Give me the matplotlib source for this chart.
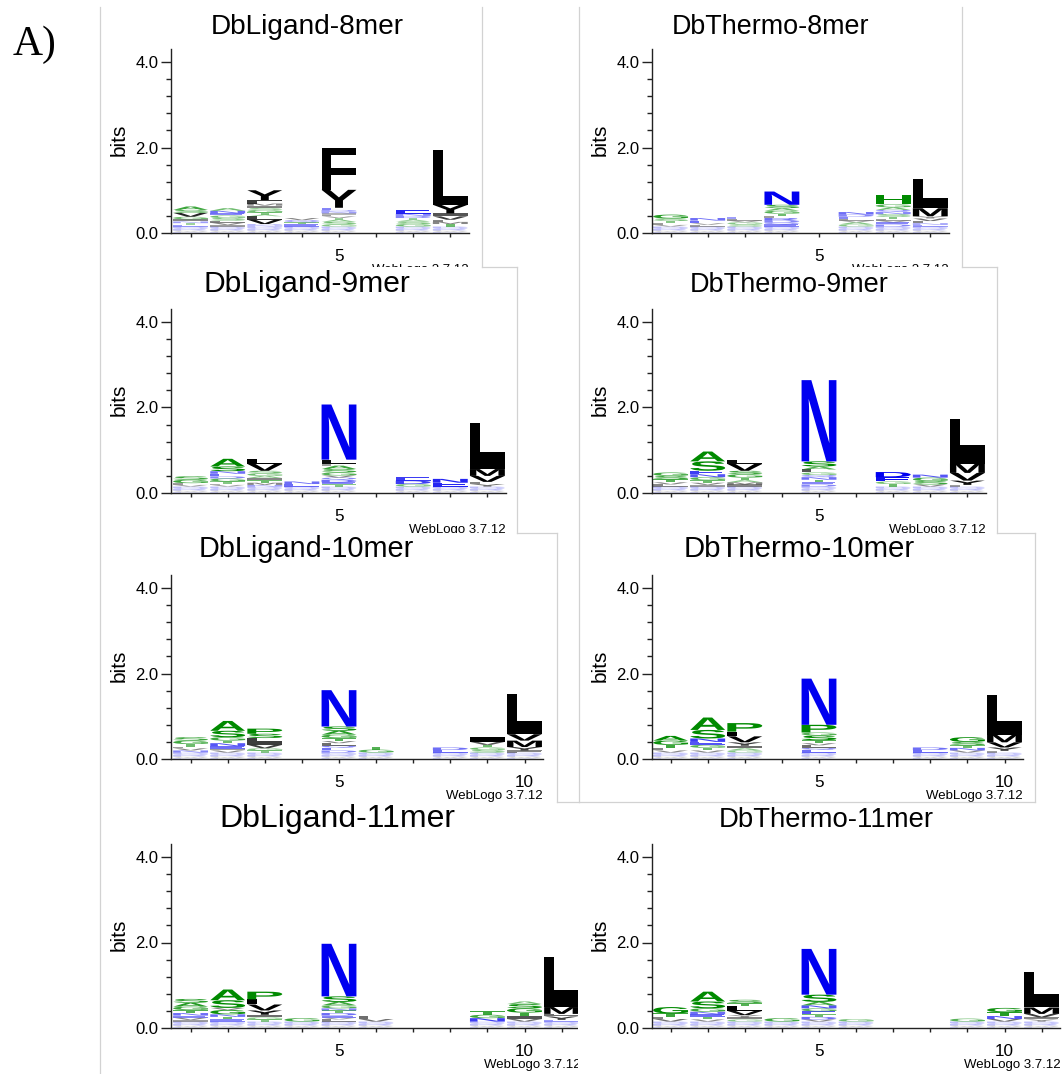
import matplotlib
matplotlib.use("Agg")
import matplotlib.pyplot as plt
from matplotlib.textpath import TextPath
from matplotlib.patches import PathPatch, Rectangle
from matplotlib.font_manager import FontProperties
from matplotlib.transforms import Affine2D
from matplotlib.lines import Line2D
from matplotlib.ticker import MultipleLocator

plt.rcParams['font.family'] = ['Liberation Sans', 'DejaVu Sans']

W, H = 1063, 1074

##
## data: one string per column, letters bottom -> top with height in 1/100 bit
## ('' = empty column). tail = faint low-information letters under every stack
tail = "K2 W2 C2 R3 Q3 D3"

lig8 = ["E4 T4 N4 I5 G6 V9 S7 A8", "I4 V5 L5 S6 G6 E5 N6 A6",
        "N3 D3 V10 L8 A4 T5 G6 S5 I5 M5 F8 Y23", "E5 T5 Q5 V5",
        "G5 S6 A5 T4 V4 L4 I3 N4 D4 E5 Y42 F97", "",
        "G6 S6 A4 T4 D5 N5 E9", "T6 M5 F5 V8 I7 Y20 L128"]
thermo8 = ["V4 L4 T5 S6 G9", "L4 V4 E6 N6", "S5 G5 V4 L4 E4",
           "E5 Q4 D5 R6 L4 T6 G7 A6 S8 N31", "", "G5 A5 V4 L4 E5 D5 N6",
           "D5 E5 V4 L4 T5 S6 N5 Q5 A6 G7 H22", "E4 N4 F5 V6 Y5 M19 I16 L53"]
lig9 = ["V4 L4 G8 S8", "V4 L3 T5 G7 D5 E6 N6 S11 A18",
        "N4 M5 T6 I5 A5 G6 S6 V16 L12", "E6 N6",
        "T5 E5 D6 Q5 V5 G7 S8 A8 F4 L10 N129", "", "G6 D8 E8", "E9 N9",
        "Y6 F5 V14 M16 I26 L81"]
thermo9 = ["L5 V5 T7 S8 G8", "I4 V5 T6 G7 N7 E8 S22 A23",
           "I5 M5 A5 T6 G8 S8 V16 L10", "",
           "D5 E5 T6 N6 Q5 G6 L7 A7 S12 N190", "", "T6 G6 E10 D12",
           "V5 S8 G8 N7", "F4 Y10 V18 M22 I32 L71"]
lig10 = ["N5 V5 L4 T6 G8 S8", "V5 I4 E6 N7 T6 G8 S15 A23",
         "T5 G5 V8 I8 L8 S10 P12", "", "D5 E6 Q5 L6 V5 T7 G8 A9 S10 N85",
         "G7 T7", "", "E6 D6", "S6 G6 T6 V7 I11", "F5 Y8 M15 V15 I18 L77"]
thermo10 = ["V5 L5 T8 G10 A11", "V5 T6 G7 E7 N8 S20 A29",
            "G5 A5 I6 Y8 V14 L11 P20", "", "E6 Q5 L6 V5 T7 S11 G7 P18 N108",
            "", "", "E6 D6", "V5 N6 T6 S8 G11", "F4 Y8 V12 M18 I21 L72"]
lig11 = ["I4 V5 E5 N6 T7 G8 A9 S9", "E5 T6 N6 G10 V5 S18 A25",
         "T5 G5 I6 Y10 V14 L12 P18", "G8", "L5 V4 E5 D6 T6 N5 G7 A8 S13 N123",
         "V6 L6", "", "", "N8 G8 T8", "V6 I7 T8 G10 S10 A6",
         "E4 Y8 F6 M16 I25 L93"]
thermo11 = ["V6 L5 T8 G15", "V5 T6 E6 N6 G8 S16 A23", "G5 I5 Y5 V10 L11 T7 S8",
            "G8", "V5 D6 T6 E7 G7 N7 A8 S17 N107", "G6", "", "", "G7",
            "V6 N7 T9 G10", "Y5 F5 V8 M15 I22 L61"]

titles = ["DbLigand-8mer", "DbThermo-8mer", "DbLigand-9mer", "DbThermo-9mer",
          "DbLigand-10mer", "DbThermo-10mer", "DbLigand-11mer", "DbThermo-11mer"]
stacks = [lig8, thermo8, lig9, thermo9, lig10, thermo10, lig11, thermo11]
ytick_vals = [0, 2, 4]
ytick_labels = ["0.0", "2.0", "4.0"]
xtick_shown = [5, 10]

# hydrophobicity colour scheme
COLORS = {}
for c in "RKDENQ":
    COLORS[c] = "#0000f0"
for c in "SGHTAP":
    COLORS[c] = "#008a00"
for c in "YVMCLFIW":
    COLORS[c] = "#000000"

##
## layout (pixels)
PX_BIT = 42.75
SP = 37.1
yaxis_px = [171, 652]
pos5_px = [339, 819]
zero_px = [233, 493, 759, 1028]
title_base = [34, 292, 557, 827]
title_x = [307, 771, 307, 789, 306, 799, 337, 826]
title_fs = [20.2, 19.4, 21.6, 19.5, 20.8, 21.2, 23, 19.8]
boxes = [(100, 7, 482, 267), (579, 7, 962, 267), (100, 267, 517, 533),
         (579, 267, 997, 533), (100, 533, 557, 802), (579, 533, 1035, 802),
         (100, 802, 578, 1074), (578, 802, 1063, 1074)]
edges = [(100, 7, 100, 1074), (482, 7, 482, 267), (482, 267, 517, 267),
         (517, 267, 517, 533), (517, 533, 557, 533), (557, 533, 557, 802),
         (557, 802, 579, 802), (579, 7, 579, 802), (962, 7, 962, 267),
         (962, 267, 997, 267), (997, 267, 997, 533), (997, 533, 1035, 533),
         (1035, 533, 1035, 802), (579, 802, 1035, 802)]


def fx(px):
    return px / W


def fy(py):
    return 1 - py / H


FP = FontProperties(family='Liberation Sans', weight='bold')
glyphs = {}


def draw_letter(ax, ch, x, y0, h, w=0.94):
    if ch not in glyphs:
        p = TextPath((0, 0), ch, size=1, prop=FP)
        glyphs[ch] = (p, p.get_extents())
    p, ext = glyphs[ch]
    tr = (Affine2D().translate(-ext.x0, -ext.y0)
          .scale(w / ext.width, h / ext.height).translate(x - w / 2, y0))
    # very thin glyphs come out faint and striped in the original raster
    alpha = min(1.0, h * PX_BIT / 4.5)
    ax.add_patch(PathPatch(tr.transform_path(p), facecolor=COLORS[ch],
                           edgecolor='none', lw=0, alpha=alpha))


fig = plt.figure(figsize=(W / 100, H / 100), dpi=100)

for i, cols in enumerate(stacks):
    col, row = i % 2, i // 2
    x0, y0, x1, y1 = boxes[i]
    fig.add_artist(Rectangle((fx(x0), fy(y1)), (x1 - x0) / W, (y1 - y0) / H,
                             transform=fig.transFigure, facecolor='white',
                             edgecolor='none', zorder=2 * i))
    n = len(cols)
    ya = yaxis_px[col]
    xend = pos5_px[col] + (n + 0.5 - 5) * SP
    z = zero_px[row]
    ax = fig.add_axes([fx(ya), fy(z), (xend - ya) / W, 4.3 * PX_BIT / H])
    ax.set_zorder(2 * i + 1)
    ax.patch.set_alpha(0)
    ax.set_xlim(5 + (ya - pos5_px[col]) / SP, n + 0.5)
    ax.set_ylim(0, 4.3)

    for j, s in enumerate(cols):
        if not s:
            continue
        y = 0.0
        for tok in (tail + " " + s).split():
            h = int(tok[1:]) / 100
            draw_letter(ax, tok[0], j + 1, y, h)
            y += h

    for sp in ['top', 'right']:
        ax.spines[sp].set_visible(False)
    for sp in ['left', 'bottom']:
        ax.spines[sp].set_color('#222222')
        ax.spines[sp].set_linewidth(1.0)
    ax.set_xticks(range(1, n + 1))
    ax.set_xticklabels([str(k) if k in xtick_shown else "" for k in range(1, n + 1)])
    ax.set_yticks(ytick_vals)
    ax.set_yticklabels(ytick_labels)
    ax.yaxis.set_minor_locator(MultipleLocator(0.4))
    ax.tick_params(axis='y', which='major', length=7.5, width=1, pad=1.5,
                   labelsize=12, color='#222222')
    ax.tick_params(axis='y', which='minor', length=3.6, width=1, color='#222222')
    ax.tick_params(axis='x', length=3, width=1, pad=8.5, labelsize=12.3,
                   color='#222222')

    ax.text(fx(title_x[i]), fy(title_base[row]), titles[i], transform=fig.transFigure,
            ha='center', va='baseline', fontsize=title_fs[i], clip_on=False)
    ax.text(fx(ya - 52), fy(z - 93), 'bits', transform=fig.transFigure, rotation=90,
            ha='center', va='center', fontsize=15, clip_on=False)
    ax.text(fx(xend), fy(z + 37), 'WebLogo 3.7.12', transform=fig.transFigure,
            ha='right', va='center', fontsize=9.5, clip_on=False)

for (a, b, c, d) in edges:
    fig.add_artist(Line2D([fx(a), fx(c)], [fy(b), fy(d)], transform=fig.transFigure,
                          color='#d2d2d2', lw=0.9, zorder=50))

fig.text(fx(35), fy(45), "A)", family='Liberation Serif', fontsize=30,
         ha='center', va='center')

fig.savefig('out.png', dpi=100)
